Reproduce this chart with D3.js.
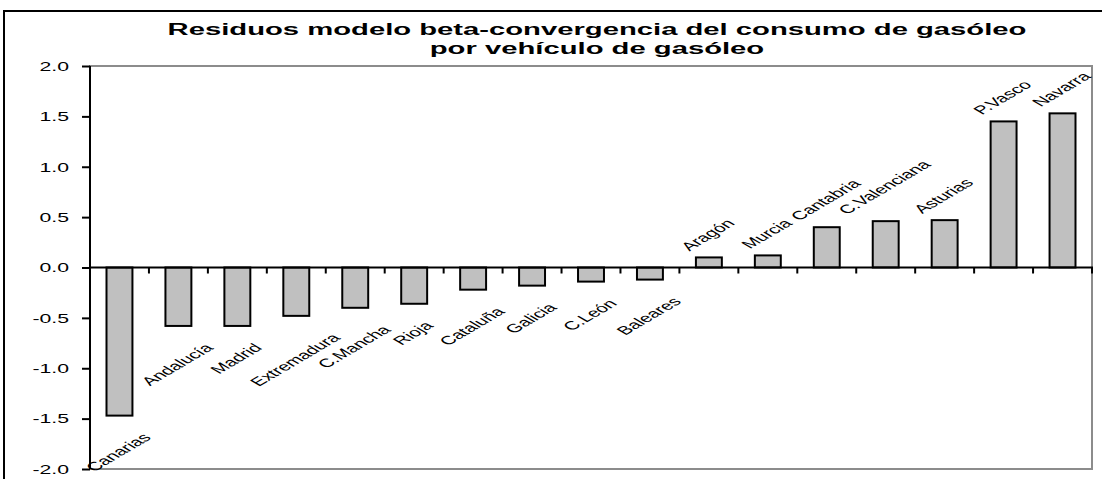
<!DOCTYPE html>
<html>
<head>
<meta charset="utf-8">
<script src="https://cdn.jsdelivr.net/npm/d3@7"></script>
<style>
  html, body { margin: 0; padding: 0; background: #fff; }
  svg { display: block; }
  text { font-family: "Liberation Sans", Arial, sans-serif; fill: #000; }
</style>
</head>
<body>
<svg id="chart" width="1102" height="479"></svg>
<script>
// Residuals by region (sorted ascending)
const regions = ["Canarias", "Andalucía", "Madrid", "Extremadura", "C.Mancha", "Rioja",
  "Cataluña", "Galicia", "C.León", "Baleares", "Aragón", "Murcia", "Cantabria",
  "C.Valenciana", "Asturias", "P.Vasco", "Navarra"];
const residuals = [-1.47, -0.58, -0.58, -0.48, -0.40, -0.36, -0.22, -0.18, -0.14, -0.12,
  0.10, 0.12, 0.40, 0.46, 0.47, 1.45, 1.53];
const yTicks = [-2.0, -1.5, -1.0, -0.5, 0.0, 0.5, 1.0, 1.5, 2.0];
const titleLines = ["Residuos modelo beta-convergencia del consumo de gasóleo",
  "por vehículo de gasóleo"];

const svg = d3.select("#chart");
const SX = 1.7;            // horizontal stretch applied to all text
const plot = { left: 90, right: 1092, top: 66, bottom: 469 };

// outer chart frame (extends past the right/bottom edges)
svg.append("rect")
  .attr("x", 4).attr("y", 11).attr("width", 1120).attr("height", 500)
  .attr("fill", "#fff").attr("stroke", "#000").attr("stroke-width", 2);

const x = d3.scaleBand()
  .domain(regions)
  .range([plot.left, plot.right])
  .paddingInner(0.56)
  .paddingOuter(0.28);

const y = d3.scaleLinear().domain([-2, 2]).range([plot.bottom, plot.top]);

// plot area border (grey)
svg.append("rect")
  .attr("x", plot.left).attr("y", plot.top)
  .attr("width", plot.right - plot.left).attr("height", plot.bottom - plot.top)
  .attr("fill", "none").attr("stroke", "#8c8c8c").attr("stroke-width", 2);

// title
const title = svg.append("g");
titleLines.forEach((t, i) => {
  title.append("text")
    .attr("transform", `translate(597,${35 + i * 19}) scale(${SX},1)`)
    .attr("text-anchor", "middle")
    .style("font-size", "17.2px")
    .style("font-weight", "bold")
    .text(t);
});

// bars
svg.append("g").selectAll("rect")
  .data(residuals)
  .join("rect")
  .attr("x", (d, i) => x(regions[i]))
  .attr("width", x.bandwidth())
  .attr("y", d => y(Math.max(0, d)))
  .attr("height", d => Math.abs(y(d) - y(0)))
  .attr("fill", "#c0c0c0")
  .attr("stroke", "#000")
  .attr("stroke-width", 2);

// y axis (hyphen-minus for negative labels)
const fmt = d => d3.format(".1f")(d).replace("\u2212", "-");
const yAxis = d3.axisLeft(y).tickValues(yTicks).tickSize(8).tickFormat(fmt);
const gy = svg.append("g").attr("transform", `translate(${plot.left},0)`).call(yAxis);
gy.select(".domain").attr("stroke", "#000").attr("stroke-width", 2)
  .attr("d", `M0,${plot.top}V${plot.bottom}`);
gy.selectAll(".tick line").attr("stroke", "#000").attr("stroke-width", 2);
gy.selectAll(".tick text")
  .attr("x", null).attr("dy", null)
  .attr("transform", `translate(-21,0) scale(${SX},1)`)
  .attr("dominant-baseline", "central")
  .attr("text-anchor", "end")
  .style("font-size", "12.5px")
  .style("font-family", "'Liberation Sans', Arial, sans-serif");

// x axis along zero, ticks at category boundaries
const step = x.step();
const boundaries = d3.range(1, regions.length + 1).map(k => plot.left + k * step);
const gx = svg.append("g");
gx.append("line")
  .attr("x1", plot.left).attr("x2", plot.right + 1)
  .attr("y1", y(0)).attr("y2", y(0))
  .attr("stroke", "#000").attr("stroke-width", 2);
gx.selectAll("line.tk").data(boundaries).join("line")
  .attr("class", "tk")
  .attr("x1", d => d).attr("x2", d => d)
  .attr("y1", y(0)).attr("y2", y(0) + 6)
  .attr("stroke", "#000").attr("stroke-width", 2);

// category labels at the outer end of each bar, rotated 45°
const FS = 12;
const labels = svg.append("g");
residuals.forEach((v, i) => {
  const cx = x(regions[i]) + x.bandwidth() / 2 - 1;
  const t = labels.append("text")
    .attr("text-anchor", "middle")
    .attr("dominant-baseline", "central")
    .style("font-size", FS + "px")
    .text(regions[i]);
  const L = t.node().getComputedTextLength();
  const half = (L * Math.SQRT1_2 + FS * 0.9 * Math.SQRT1_2) / 2;
  const cy = v >= 0 ? y(v) - 5 - half : y(v) + 16 + half;
  t.attr("transform", `translate(${cx},${cy}) scale(${SX},1) rotate(-45)`);
});
</script>
</body>
</html>
